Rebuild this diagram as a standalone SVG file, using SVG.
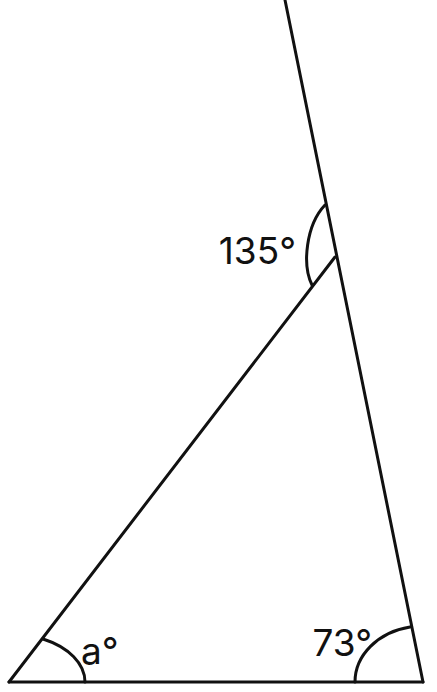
<svg xmlns="http://www.w3.org/2000/svg" width="437" height="692" viewBox="0 0 437 692">
<style>
.ln{fill:none;stroke:#111;stroke-width:3;stroke-linecap:round;stroke-linejoin:round}
.lbl{font-family:Inter,"Noto Sans",sans-serif;font-size:37px;fill:#111}
</style>
<rect width="437" height="692" fill="#fff"/>
<g id="connectors">
<path class="ln" d="M285,0 L423,682"/>
<path class="ln" d="M9,682 L423,682"/>
<path class="ln" d="M9,682 L335,257"/>
</g>
<g id="angle-top">
<path class="ln" d="M325,205 C306,225 302,265 312,285"/>
<text class="lbl" x="296" y="264" text-anchor="end">135°</text>
</g>
<g id="angle-a">
<path class="ln" d="M43,639 A76,48 0 0 1 85,682"/>
<text class="lbl" x="81" y="664">a°</text>
</g>
<g id="angle-73">
<path class="ln" d="M355,682 A68,56 0 0 1 410,627"/>
<text class="lbl" x="372" y="656" text-anchor="end">73°</text>
</g>
</svg>
